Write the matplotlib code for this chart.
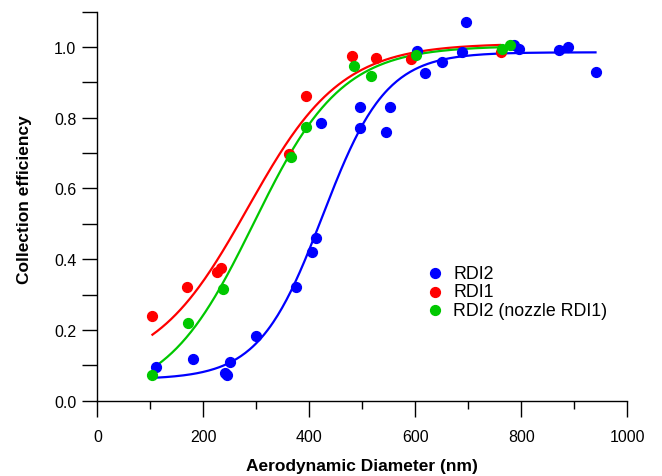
import numpy as np
import matplotlib
matplotlib.use("Agg")
import matplotlib.pyplot as plt
from matplotlib.ticker import MultipleLocator

plt.rcParams['font.family'] = ['Liberation Sans', 'DejaVu Sans']

# measured points (aerodynamic diameter in nm, collection efficiency)
rdi2_x = [110, 181, 241, 245, 251, 299, 375, 405, 412, 422, 496, 496, 544, 553,
          604, 619, 651, 688, 695, 786, 795, 871, 889, 940]
rdi2_y = [0.094, 0.118, 0.078, 0.073, 0.109, 0.182, 0.320, 0.420, 0.459, 0.785, 0.831, 0.772, 0.760, 0.831,
          0.989, 0.927, 0.957, 0.986, 1.070, 1.007, 0.993, 0.991, 1.001, 0.928]

rdi1_x = [103, 170, 225, 233, 362, 393, 481, 525, 592, 762]
rdi1_y = [0.240, 0.322, 0.365, 0.375, 0.697, 0.861, 0.974, 0.970, 0.965, 0.985]

nozzle_x = [104, 171, 238, 365, 394, 485, 516, 601, 764, 779]
nozzle_y = [0.073, 0.220, 0.316, 0.690, 0.773, 0.946, 0.917, 0.976, 0.995, 1.005]

# Boltzmann fit parameters: (A1, A2, x0, dx, x_start, x_end)
fit_rdi2 = (0.06, 0.985, 425, 60, 110, 940)
fit_rdi1 = (0.08, 1.01, 284, 88, 104, 760)
fit_nozzle = (0.0, 1.003, 295, 83, 105, 776)


def boltzmann(x, a1, a2, x0, dx):
    return a2 + (a1 - a2) / (1 + np.exp((x - x0) / dx))


def fit_line(p):
    xs = np.linspace(p[4], p[5], 300)
    return xs, boltzmann(xs, *p[:4])


blue = '#0000ff'
red = '#ff0000'
green = '#00c800'

fig = plt.figure(figsize=(6.62, 4.77), dpi=100)
ax = fig.add_axes([0.147, 0.158, 0.8006, 0.8155])

for p, c in [(fit_rdi2, blue), (fit_rdi1, red), (fit_nozzle, green)]:
    xs, ys = fit_line(p)
    ax.plot(xs, ys, color=c, lw=1.6, zorder=2)

ax.scatter(rdi2_x, rdi2_y, s=50, color=blue, label='RDI2', zorder=3, clip_on=False)
ax.scatter(rdi1_x, rdi1_y, s=50, color=red, label='RDI1', zorder=3, clip_on=False)
ax.scatter(nozzle_x, nozzle_y, s=50, color=green, label='RDI2 (nozzle RDI1)', zorder=3, clip_on=False)

ax.set_xlim(0, 1000)
ax.set_ylim(0, 1.1)
ax.xaxis.set_major_locator(MultipleLocator(200))
ax.xaxis.set_minor_locator(MultipleLocator(100))
ax.yaxis.set_major_locator(MultipleLocator(0.2))
ax.yaxis.set_minor_locator(MultipleLocator(0.1))
ax.yaxis.set_major_formatter(lambda v, pos: f'{v:.1f}')

for s in ['top', 'right']:
    ax.spines[s].set_visible(False)
for s in ['left', 'bottom']:
    ax.spines[s].set_linewidth(1.0)

ax.tick_params(axis='x', which='major', length=11.5, width=1.0, pad=9, labelsize=11.5)
ax.tick_params(axis='x', which='minor', length=6, width=1.0)
ax.tick_params(axis='y', which='major', length=11, width=1.0, pad=4, labelsize=11.5)
ax.tick_params(axis='y', which='minor', length=11, width=1.0)

ax.set_xlabel('Aerodynamic Diameter (nm)', fontsize=12.5, fontweight='bold')
ax.set_ylabel('Collection efficiency', fontsize=12.5, fontweight='bold')
ax.xaxis.set_label_coords(0.5, -0.148)
ax.yaxis.set_label_coords(-0.123, 0.52)

ax.legend(loc='upper left', bbox_to_anchor=(0.591, 0.367), frameon=False, fontsize=12.8,
          handletextpad=0.0, labelspacing=0.08, borderaxespad=0, markerscale=1.0)

fig.savefig('out.png', dpi=100)
